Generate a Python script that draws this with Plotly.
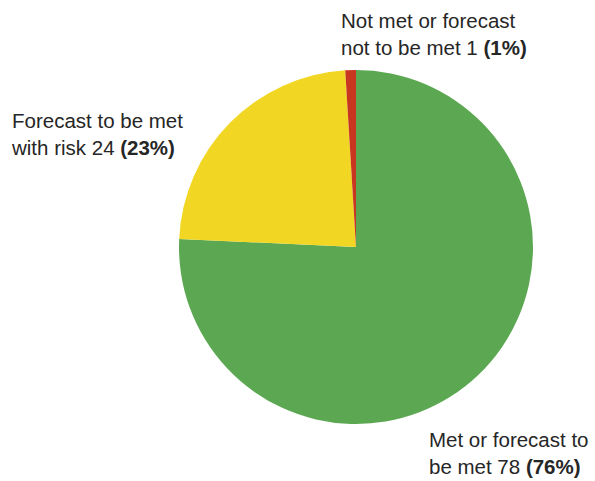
import plotly.graph_objects as go

# Delivery status counts
labels = ["Met or forecast to be met", "Forecast to be met with risk", "Not met or forecast not to be met"]
values = [78, 24, 1]
colors = ["#5ca852", "#f1d724", "#c9361f"]

# Label text split over two lines, with the share in bold
line1 = ["Met or forecast to", "Forecast to be met", "Not met or forecast"]
line2 = ["be met", "with risk", "not to be met"]

W, H = 595, 481
total = sum(values)

fig = go.Figure(go.Pie(
    labels=labels,
    values=values,
    marker=dict(colors=colors, line=dict(width=0)),
    sort=False,
    direction="clockwise",
    rotation=0,
    textinfo="none",
    hoverinfo="label+value+percent",
    showlegend=False,
    domain=dict(x=[179 / W, 533 / W], y=[57 / H, 411 / H]),
))

# Label anchor positions (pixels from top-left)
label_pos = [(427, 426), (9, 107), (339, 7)]
for i, (px, py) in enumerate(label_pos):
    pct = round(values[i] / total * 100)
    fig.add_annotation(
        x=px / W, y=1 - py / H, xref="paper", yref="paper",
        xanchor="left", yanchor="top", align="left", showarrow=False,
        text=f"{line1[i]}<br>{line2[i]} {values[i]} <b>({pct}%)</b>",
        font=dict(size=20.5, color="#262626", family="Liberation Sans, Arial, sans-serif"),
    )

fig.update_layout(
    width=W, height=H,
    margin=dict(l=0, r=0, t=0, b=0),
    paper_bgcolor="white",
    plot_bgcolor="white",
)

fig.write_html("out.html")
